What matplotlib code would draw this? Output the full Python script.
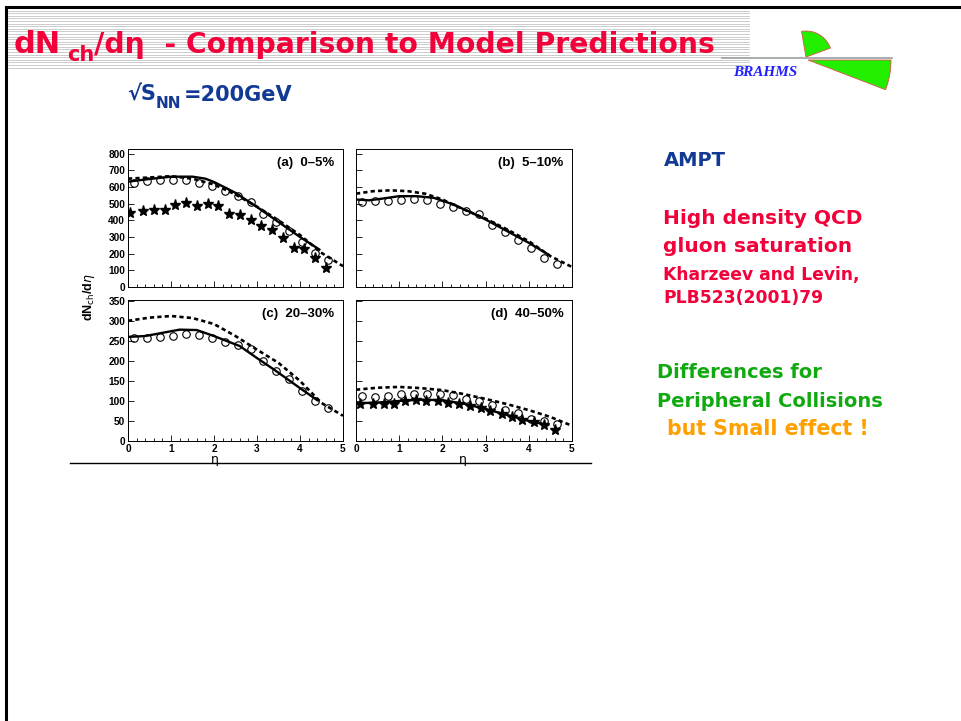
import numpy as np
import matplotlib.pyplot as plt
from matplotlib.patches import Polygon
from matplotlib.ticker import MultipleLocator

# --- BRAHMS dN/deta, 200 GeV, four centrality bins ---
eta_pts = [0.15, 0.45, 0.75, 1.05, 1.35, 1.65, 1.95, 2.25,
           2.55, 2.85, 3.15, 3.45, 3.75, 4.05, 4.35, 4.65]

# (a) 0-5%
a_data = [625, 635, 645, 640, 640, 625, 605, 575, 545, 510, 440, 390, 335, 270, 205, 165]
a_star_eta = [0.05, 0.35, 0.6, 0.85, 1.1, 1.35, 1.6, 1.85, 2.1, 2.35,
              2.6, 2.85, 3.1, 3.35, 3.6, 3.85, 4.1, 4.35, 4.6]
a_star = [445, 455, 465, 465, 495, 505, 485, 500, 485, 440,
          435, 400, 365, 340, 295, 235, 230, 175, 115]
a_ampt_eta = [0, 0.5, 1.0, 1.5, 1.8, 2.0, 2.5, 3.0, 3.5, 4.0, 4.45]
a_ampt = [632, 648, 662, 662, 650, 630, 565, 480, 390, 300, 225]
a_kl_eta = [0, 0.5, 1.0, 1.5, 2.0, 2.5, 3.0, 3.5, 4.0, 4.5, 5.0]
a_kl = [650, 657, 665, 650, 615, 555, 482, 400, 312, 205, 125]

# (b) 5-10%
b_data = [510, 515, 518, 522, 530, 522, 500, 480, 455, 440, 375, 330, 285, 235, 175, 140]
b_ampt_eta = [0, 0.3, 0.6, 1.0, 1.4, 1.8, 2.2, 2.6, 3.0, 3.5, 4.0, 4.45]
b_ampt = [525, 520, 530, 545, 545, 535, 500, 455, 405, 335, 265, 195]
b_kl_eta = [0, 0.4, 0.8, 1.2, 1.6, 2.0, 2.5, 3.0, 3.5, 4.0, 4.5, 5.0]
b_kl = [560, 575, 580, 575, 560, 525, 465, 410, 345, 275, 185, 120]

# (c) 20-30%
c_data = [258, 256, 260, 262, 266, 264, 257, 248, 240, 230, 200, 175, 155, 125, 100, 83]
c_ampt_eta = [0, 0.4, 0.8, 1.2, 1.6, 2.0, 2.6, 3.0, 3.4, 4.0, 4.4]
c_ampt = [260, 262, 270, 278, 277, 262, 237, 207, 178, 132, 102]
c_kl_eta = [0, 0.5, 1.0, 1.5, 2.0, 2.5, 3.0, 3.5, 4.0, 4.5, 5.0]
c_kl = [300, 308, 312, 307, 292, 262, 228, 195, 150, 95, 63]

# (d) 40-50%
d_data = [112, 110, 112, 118, 117, 118, 117, 114, 106, 100, 89, 77, 70, 56, 50, 42]
d_star_eta = [0.1, 0.39, 0.65, 0.88, 1.13, 1.4, 1.63, 1.9, 2.14, 2.38,
              2.64, 2.9, 3.1, 3.37, 3.6, 3.84, 4.11, 4.35, 4.61]
d_star = [92, 92, 93, 93, 100, 103, 100, 100, 95, 92,
          87, 83, 75, 67, 60, 52, 48, 40, 27]
d_ampt_eta = [0, 0.5, 1.0, 1.5, 2.0, 2.5, 3.0, 3.5, 4.0, 4.45]
d_ampt = [94, 96, 100, 103, 102, 93, 80, 65, 50, 40]
d_kl_eta = [0, 0.5, 1.0, 1.5, 2.0, 2.5, 3.0, 3.5, 4.0, 4.5, 5.0]
d_kl = [128, 133, 135, 132, 127, 117, 105, 92, 77, 60, 38]

W, H = 961, 721
fig = plt.figure(figsize=(9.61, 7.21), dpi=100)

# slide background drawn in pixel coordinates
deco = fig.add_axes([0, 0, 1, 1], zorder=0)
deco.set_xlim(0, W)
deco.set_ylim(H, 0)
deco.axis('off')

for y in np.arange(10.5, 68, 2.6):
    deco.plot([8, 749], [y, y], color='#c4c4c4', lw=0.6)
deco.plot([6, W], [7, 7], color='black', lw=2.2)
deco.plot([6, 6], [7, H], color='black', lw=2.2)

red = '#f2003a'
tfont = dict(family='DejaVu Sans', weight='bold', color=red)
deco.text(14, 53, 'dN', fontsize=22, **tfont)
deco.text(67, 61, 'ch', fontsize=15, **tfont)
deco.text(94, 53, '/d\u03b7  - Comparison to Model Predictions', fontsize=20.3, **tfont)

# BRAHMS logo
deco.plot([722, 892], [58, 58], color='#9aa0a0', lw=1.2)
ang = np.linspace(np.radians(20), np.radians(100), 30)
up = [(806, 57)] + [(806 + 26 * np.cos(t), 57 - 26 * np.sin(t)) for t in ang]
deco.add_patch(Polygon(up, closed=True, fc='#22ee00', ec='#e05050', lw=0.6))
ang = np.linspace(np.radians(0), np.radians(-21), 30)
lo = [(808, 60)] + [(808 + 83 * np.cos(t), 60 - 83 * np.sin(t)) for t in ang]
deco.add_patch(Polygon(lo, closed=True, fc='#22ee00', ec='#e05050', lw=0.6))
deco.text(733, 76, 'BRAHMS', family='Liberation Serif', style='italic',
          weight='bold', fontsize=11, color='#2020ff')

navy = '#123a94'
deco.text(127, 101, '\u221aS', fontsize=15, color=navy, weight='bold', family='DejaVu Sans')
deco.text(156, 108, 'NN', fontsize=11, color=navy, weight='bold', family='DejaVu Sans')
deco.text(184, 101, '=200GeV', fontsize=15, color=navy, weight='bold', family='DejaVu Sans')

# right-hand notes
nfont = dict(family='DejaVu Sans', weight='bold')
deco.text(664, 166, 'AMPT', fontsize=14, color=navy, **nfont)
deco.text(663, 224, 'High density QCD', fontsize=14.5, color=red, **nfont)
deco.text(663, 252, 'gluon saturation', fontsize=14.5, color=red, **nfont)
deco.text(663, 280, 'Kharzeev and Levin,', fontsize=12.3, color=red, **nfont)
deco.text(663, 303, 'PLB523(2001)79', fontsize=12.3, color=red, **nfont)
deco.text(657, 378, 'Differences for', fontsize=14, color='#10aa10', **nfont)
deco.text(657, 407, 'Peripheral Collisions', fontsize=14, color='#10aa10', **nfont)
deco.text(667, 435, 'but Small effect !', fontsize=14.8, color='#ffa000', **nfont)

deco.plot([70, 591], [463, 463], color='black', lw=1.0)


def px_rect(x0, y0, x1, y1):
    return [x0 / W, 1 - y1 / H, (x1 - x0) / W, (y1 - y0) / H]


tick_font = dict(family='Liberation Sans', weight='bold', size=7.3)


def panel(rect, ymax, ystep, label, data, ampt_eta, ampt, kl_eta, kl,
          star_eta=None, star=None, ylabels=False, xlabels=False):
    ax = fig.add_axes(rect, zorder=2)
    ax.plot(kl_eta, kl, color='black', lw=1.9, ls=(0, (1.6, 1.2)))
    ax.plot(ampt_eta, ampt, color='black', lw=1.7)
    if star is not None:
        ax.plot(star_eta, star, ls='none', marker='*', ms=8, color='black')
    ax.plot(eta_pts, data, ls='none', marker='o', ms=5.4, mfc='none',
            mec='black', mew=0.8)
    ax.set_xlim(0, 5)
    ax.set_ylim(0, ymax)
    ax.xaxis.set_major_locator(MultipleLocator(1))
    ax.xaxis.set_minor_locator(MultipleLocator(0.2))
    ax.yaxis.set_major_locator(MultipleLocator(ystep))
    ax.tick_params(which='both', direction='in', top=False, right=False,
                   width=0.6, pad=2)
    ax.tick_params(which='major', length=4)
    ax.tick_params(which='minor', length=2)
    if ylabels:
        ax.set_yticks(np.arange(0, ymax, ystep))
        ax.set_yticklabels([str(int(v)) for v in np.arange(0, ymax, ystep)], **tick_font)
    else:
        ax.set_yticklabels([])
    if xlabels:
        ax.set_xticks(range(6))
        ax.set_xticklabels([str(v) for v in range(6)], **tick_font)
    else:
        ax.set_xticklabels([])
    for s in ax.spines.values():
        s.set_linewidth(0.7)
    ax.text(0.96, 0.94, label, transform=ax.transAxes, ha='right', va='top',
            family='Liberation Sans', weight='bold', fontsize=9.5)
    return ax


panel(px_rect(128, 149, 343, 287), 828, 100, '(a)  0\u20135%', a_data,
      a_ampt_eta, a_ampt, a_kl_eta, a_kl, a_star_eta, a_star, ylabels=True)
panel(px_rect(356, 149, 572, 287), 828, 100, '(b)  5\u201310%', b_data,
      b_ampt_eta, b_ampt, b_kl_eta, b_kl)
panel(px_rect(128, 300, 343, 441), 352, 50, '(c)  20\u201330%', c_data,
      c_ampt_eta, c_ampt, c_kl_eta, c_kl, ylabels=True, xlabels=True)
panel(px_rect(356, 300, 572, 441), 352, 50, '(d)  40\u201350%', d_data,
      d_ampt_eta, d_ampt, d_kl_eta, d_kl, d_star_eta, d_star, xlabels=True)

deco.text(89, 297, r'dN$_{\rm ch}$/d$\eta$', rotation=90, ha='center', va='center',
          family='Liberation Sans', weight='bold', fontsize=9)
deco.text(215, 459, '\u03b7', ha='center', va='center', fontsize=9, family='DejaVu Sans')
deco.text(463, 459, '\u03b7', ha='center', va='center', fontsize=9, family='DejaVu Sans')

fig.savefig('out.png', dpi=100)
